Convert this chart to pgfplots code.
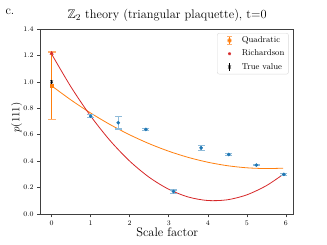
\documentclass[border=0pt]{standalone}
\usepackage{pgfplots}
\pgfplotsset{compat=1.18}
\usepackage{amssymb}
\definecolor{tblue}{HTML}{1F77B4}
\definecolor{torange}{HTML}{FF7F0E}
\definecolor{tred}{HTML}{D62728}
\definecolor{lblue}{HTML}{8FBBD9}
\definecolor{lorange}{HTML}{FFB070}
\begin{document}
\begin{tikzpicture}
\useasboundingbox (-40.7pt,-31pt) rectangle (286.3pt,214pt);
\begin{axis}[
  scale only axis, width=253pt, height=185pt,
  xmin=-0.28, xmax=6.2, ymin=0, ymax=1.4,
  xtick={0,1,2,3,4,5,6},
  ytick={0,0.2,0.4,0.6,0.8,1.0,1.2,1.4},
  yticklabel style={/pgf/number format/fixed, /pgf/number format/fixed zerofill, /pgf/number format/precision=1},
  tick label style={font=\fontsize{7}{8}\selectfont},
  tick align=outside, xtick pos=bottom, ytick pos=left,
  major tick length=3.5pt,
  tick style={black!75, line width=0.6pt},
  axis line style={black!75, line width=0.8pt},
  title={$\mathbb{Z}_2$ theory (triangular plaquette), t=0},
  title style={font=\fontsize{12.4}{14}\selectfont, at={(axis description cs:0.5,1)}, anchor=base, yshift=4.5pt},
  xlabel={Scale factor},
  xlabel style={font=\fontsize{12.4}{14}\selectfont, at={(axis description cs:0.5,0)}, anchor=base, yshift=-23pt},
  ylabel={$p(111)$},
  ylabel style={font=\fontsize{10.5}{12}\selectfont, at={(axis description cs:0,0.5)}, anchor=center, rotate=0, yshift=24pt, xshift=4pt},
  legend style={at={(rel axis cs:0.98,0.978)}, anchor=north east, draw=black!15, rounded corners=2pt,
    font=\fontsize{8.5}{10}\selectfont, inner xsep=2pt, inner ysep=1.5pt, row sep=1.8pt},
  legend cell align=left,
  clip=false,
  unbounded coords=jump,
]
% Quadratic fit curve
\addplot[torange, line width=0.8pt, smooth, forget plot] coordinates {
 (0,0.970) (0.5,0.8619) (1,0.7641) (1.5,0.6764) (2,0.5990) (2.5,0.5319) (3,0.4749)
 (3.5,0.4282) (4,0.3918) (4.5,0.3655) (5,0.3495) (5.5,0.3437) (5.93,0.3469)};
% Richardson curve
\addplot[tred, line width=0.8pt, smooth, forget plot] coordinates {
 (0,1.21) (0.5,0.9595) (1,0.741) (1.5,0.5545) (2,0.400) (2.5,0.2775) (3,0.187)
 (3.5,0.1285) (4,0.102) (4.5,0.1075) (5,0.145) (5.5,0.2145) (5.93,0.2999)};
% data error bars (low/high)
\addplot[lblue, line width=1.2pt, forget plot] coordinates {
 (1.000,0.730) (1.000,0.750) (1.000,nan)
 (1.707,0.643) (1.707,0.737) (1.707,nan)
 (2.414,0.630) (2.414,0.650) (2.414,nan)
 (3.121,0.158) (3.121,0.182) (3.121,nan)
 (3.828,0.482) (3.828,0.518) (3.828,nan)
 (4.536,0.444) (4.536,0.456) (4.536,nan)
 (5.243,0.364) (5.243,0.376) (5.243,nan)
 (5.950,0.292) (5.950,0.308)};
\addplot[only marks, mark=-, mark size=3.5pt, lblue, mark options={line width=1.2pt}, forget plot] coordinates {
 (1.000,0.730) (1.000,0.750)
 (1.707,0.643) (1.707,0.737)
 (2.414,0.630) (2.414,0.650)
 (3.121,0.158) (3.121,0.182)
 (3.828,0.482) (3.828,0.518)
 (4.536,0.444) (4.536,0.456)
 (5.243,0.364) (5.243,0.376)
 (5.950,0.292) (5.950,0.308)};
% data points
\addplot[only marks, mark=*, mark size=1.6pt, tblue, forget plot] coordinates {
 (1.000,0.740) (1.707,0.690) (2.414,0.640) (3.121,0.170)
 (3.828,0.500) (4.536,0.450) (5.243,0.370) (5.950,0.300)};
% Quadratic extrapolation with error bar
\addplot[draw=torange, line width=1.6pt, forget plot] coordinates {(0,0.714) (0,1.226)};
\addplot[only marks, mark=-, mark size=4pt, lorange, mark options={line width=1.2pt}, forget plot] coordinates {(0,0.714) (0,1.226)};
\addplot[only marks, mark=square*, mark size=1.7pt, torange, forget plot] coordinates {(0,0.970)};
% Richardson extrapolation
\addplot[only marks, mark=triangle*, mark size=2pt, tred, forget plot] coordinates {(0,1.215)};
% True value
\addplot[black, line width=0.6pt, forget plot] coordinates {(0,0.985) (0,1.015)};
\addplot[only marks, mark=x, mark size=2pt, black, forget plot] coordinates {(0,1.0)};
% legend
\addlegendimage{legend image code/.code={
  \path[draw=none] (0,0) -- (0.72cm,0);
  \draw[torange, line width=1pt] (0.36cm,-0.13cm) -- (0.36cm,0.13cm);
  \draw[lorange, line width=0.8pt] (0.28cm,-0.13cm)--(0.44cm,-0.13cm) (0.28cm,0.13cm)--(0.44cm,0.13cm);
  \fill[torange] (0.36cm,0cm) +(-1.6pt,-1.6pt) rectangle +(1.6pt,1.6pt);
}}
\addlegendentry{Quadratic}
\addlegendimage{legend image code/.code={
  \path[draw=none] (0,0) -- (0.72cm,0);
  \fill[tred] (0.36cm,0cm) +(0,2.2pt) -- +(-1.9pt,-1.1pt) -- +(1.9pt,-1.1pt) -- cycle;
}}
\addlegendentry{Richardson}
\addlegendimage{legend image code/.code={
  \path[draw=none] (0,0) -- (0.72cm,0);
  \draw[black, line width=0.6pt] (0.36cm,-0.13cm) -- (0.36cm,0.13cm);
  \draw[black, line width=0.5pt] (0.36cm,0cm) +(-1.5pt,-1.5pt) -- +(1.5pt,1.5pt) +(-1.5pt,1.5pt) -- +(1.5pt,-1.5pt);
}}
\addlegendentry{True value}
\end{axis}
\node[anchor=base west, font=\fontsize{12.4}{14}\selectfont] at (-38.7pt,199pt) {c.};
\end{tikzpicture}
\end{document}
